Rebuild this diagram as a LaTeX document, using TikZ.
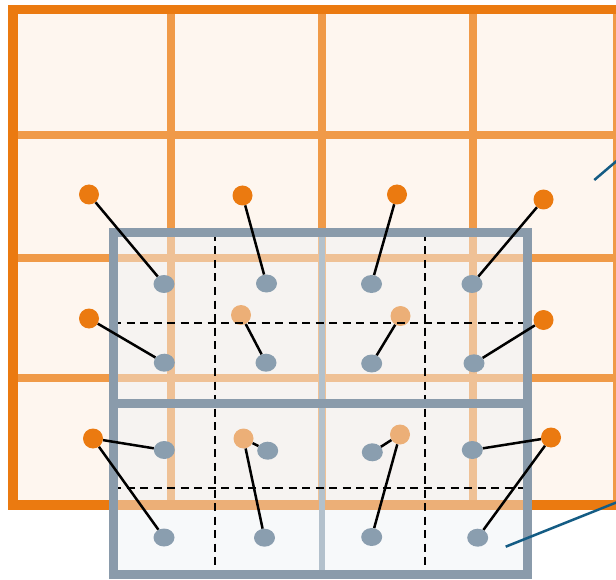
\documentclass[tikz,border=0pt]{standalone}
\usetikzlibrary{shapes.geometric}
\definecolor{ofill}{HTML}{FEF6EF}
\definecolor{oframe}{HTML}{EB7A10}
\definecolor{ogrid}{HTML}{F09A48}
\definecolor{odot}{HTML}{EB7A10}
\definecolor{gframe}{HTML}{8A9BAB}
\definecolor{gmid}{HTML}{B3C1CC}
\definecolor{gdot}{HTML}{8A9EAF}
\definecolor{boxfill}{HTML}{EEF1F5}
\definecolor{teal}{HTML}{145C84}
\tikzset{
  odotn/.style={circle, fill=odot, minimum size=20pt, inner sep=0pt},
  gdotn/.style={ellipse, fill=gdot, minimum width=21pt, minimum height=18pt, inner sep=0pt},
  link/.style={black, line width=2.5pt},
  gridline/.style={ogrid, line width=8pt},
  dashline/.style={black, line width=2.4pt, dash pattern=on 8pt off 5.5pt},
  callout/.style={teal, line width=2.5pt},
}
\begin{document}
\begin{tikzpicture}[x=1pt, y=-1pt]
\useasboundingbox (0,0) rectangle (616,580);
\clip (0,0) rectangle (616,580);
% orange grid
\fill[ofill] (13,9.5) rectangle (680,505);
\foreach \x in {171,322,473,617} \draw[gridline] (\x,9.5) -- (\x,505);
\foreach \y in {135,258,378} \draw[gridline] (13,\y) -- (680,\y);
\draw[oframe, line width=9.5pt, line join=miter] (680,9.5) -- (13,9.5) -- (13,505) -- (680,505);
% orange dots
\node[odotn] (a1) at (89,194.5) {};
\node[odotn] (a2) at (242.5,195.5) {};
\node[odotn] (a3) at (397,194.5) {};
\node[odotn] (a4) at (543.5,199.5) {};
\node[odotn] (b1) at (89,318.5) {};
\node[odotn] (b2) at (241,315) {};
\node[odotn] (b3) at (400.5,316) {};
\node[odotn] (b4) at (543.5,320) {};
\node[odotn] (c1) at (93,438.5) {};
\node[odotn] (c2) at (243.5,438.5) {};
\node[odotn] (c3) at (400,434.5) {};
\node[odotn] (c4) at (551,437.5) {};
% gray box overlay
\fill[boxfill, fill opacity=0.45] (113,233) rectangle (527,574);
\draw[gmid, line width=6pt] (322,233) -- (322,574);
\draw[dashline] (215,233) -- (215,574);
\draw[dashline] (425,233) -- (425,574);
\draw[dashline] (113,323) -- (527,323);
\draw[dashline] (113,488) -- (527,488);
\draw[gframe, line width=9pt] (113,233) rectangle (527,403);
\draw[gframe, line width=9pt] (113,403) rectangle (527,574);
% gray dots
\node[gdotn] (p1) at (164,284) {};
\node[gdotn] (p2) at (266.5,283.5) {};
\node[gdotn] (p3) at (371.5,284) {};
\node[gdotn] (p4) at (472,284) {};
\node[gdotn] (q1) at (164.3,362.7) {};
\node[gdotn] (q2) at (266,362.7) {};
\node[gdotn] (q3) at (371.7,363.5) {};
\node[gdotn] (q4) at (474,363.3) {};
\node[gdotn] (r1) at (164.3,450) {};
\node[gdotn] (r2) at (267.7,450.7) {};
\node[gdotn] (r3) at (372.3,452.3) {};
\node[gdotn] (r4) at (472.3,450) {};
\node[gdotn] (s1) at (164,537.5) {};
\node[gdotn] (s2) at (264.5,537.7) {};
\node[gdotn] (s3) at (371.7,537) {};
\node[gdotn] (s4) at (477.7,537.7) {};
% links
\draw[link] (a1) -- (p1);
\draw[link] (a2) -- (p2);
\draw[link] (a3) -- (p3);
\draw[link] (a4) -- (p4);
\draw[link] (b1) -- (q1);
\draw[link] (b2) -- (q2);
\draw[link] (b3) -- (q3);
\draw[link] (b4) -- (q4);
\draw[link] (c1) -- (r1);
\draw[link] (c1) -- (s1);
\draw[link] (c2) -- (r2);
\draw[link] (c2) -- (s2);
\draw[link] (c3) -- (r3);
\draw[link] (c3) -- (s3);
\draw[link] (c4) -- (r4);
\draw[link] (c4) -- (s4);
% callouts
\coordinate (t1) at (594.3,180);
\coordinate (t2) at (640,141);
\coordinate (u1) at (505.7,546.7);
\coordinate (u2) at (650,489);
\draw[callout] (t1) -- (t2);
\draw[callout] (u1) -- (u2);
\end{tikzpicture}
\end{document}
